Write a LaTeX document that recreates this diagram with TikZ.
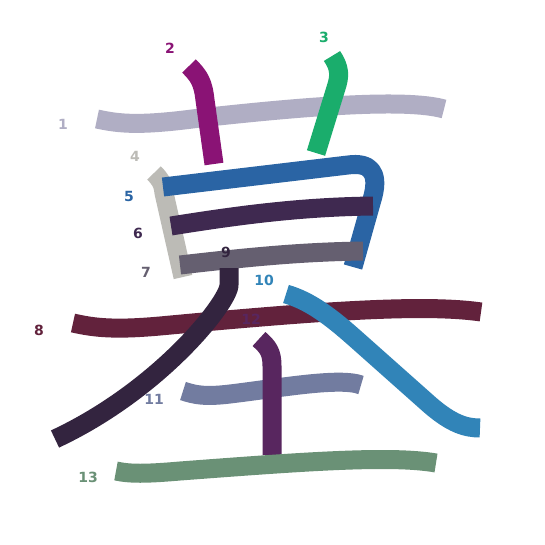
\documentclass[tikz,border=0pt]{standalone}
\usepackage{fontspec}
\setsansfont{DejaVu Sans}
\usetikzlibrary{positioning}

\definecolor{cOne}{HTML}{B0AEC4}
\definecolor{cTwo}{HTML}{8A1375}
\definecolor{cThree}{HTML}{1AAD6C}
\definecolor{cFour}{HTML}{BCBBB6}
\definecolor{cFive}{HTML}{2A64A4}
\definecolor{cSix}{HTML}{3F2950}
\definecolor{cSeven}{HTML}{655F70}
\definecolor{cEight}{HTML}{62223C}
\definecolor{cNine}{HTML}{33243F}
\definecolor{cTen}{HTML}{3184B8}
\definecolor{cEleven}{HTML}{727CA0}
\definecolor{cTwelve}{HTML}{58265F}
\definecolor{cThirteen}{HTML}{6A9176}

\tikzset{
  kstroke/.style={draw=#1, line width=19pt, line cap=butt, line join=round},
  numlbl/.style={text=#1, font=\sffamily\bfseries\fontsize{14}{14}\selectfont, inner sep=0pt}
}

\begin{document}
\begin{tikzpicture}[x=1pt, y=-1pt]
  \fill[white] (0,0) rectangle (545,545);
  \useasboundingbox (0,0) rectangle (545,545);

  % grass radical
  \draw[kstroke=cOne] (97,119) .. controls (120,124) and (140,126) .. (200,118) .. controls (300,107) and (405,98) .. (444,109);
  \node[numlbl=cOne] (n1) at (63,124) {1};
  \draw[kstroke=cTwo] (189,66) .. controls (199,76) and (203,82) .. (205,100) -- (214,164);
  \node[numlbl=cTwo] (n2) at (170,48) {2};
  \draw[kstroke=cThree] (332,56) .. controls (340,68) and (340,76) .. (336,88) -- (316,153);
  \node[numlbl=cThree] (n3) at (324,37) {3};

  % sun
  \draw[kstroke=cFour] (154,173) .. controls (160,179) and (163,183) .. (164,193) -- (183,277);
  \node[numlbl=cFour] (n4) at (135,156) {4};
  \draw[kstroke=cFive] (163,187) -- (348,165) .. controls (370,162) and (379,172) .. (373,196) -- (353,267);
  \node[numlbl=cFive] (n5) at (129,196) {5};
  \draw[kstroke=cSix] (171,226) .. controls (240,215) and (300,207) .. (373,206);
  \node[numlbl=cSix] (n6) at (138,233) {6};
  \draw[kstroke=cSeven] (180,265) .. controls (250,257) and (300,252) .. (363,251);
  \node[numlbl=cSeven] (n7) at (146,272) {7};

  % big
  \draw[kstroke=cEight] (73,323) .. controls (95,328) and (115,330) .. (160,326) .. controls (300,313) and (420,303) .. (481,312);
  \node[numlbl=cEight] (n8) at (39,330) {8};
  \draw[kstroke=cNine] (229,268) -- (229,285) .. controls (229,302) and (160,390) .. (55,439);
  \node[numlbl=cNine] (n9) at (226,252) {9};
  \draw[kstroke=cTen] (286,294) .. controls (310,301) and (330,316) .. (358,341) -- (430,405) .. controls (452,424) and (466,428) .. (480,428);
  \node[numlbl=cTen] (n10) at (264,280) {10};

  % earth
  \draw[kstroke=cEleven] (183,391) .. controls (195,395) and (205,397) .. (230,394) .. controls (280,388) and (340,377) .. (361,385);
  \node[numlbl=cEleven] (n11) at (154,399) {11};
  \draw[kstroke=cTwelve] (259,339) .. controls (268,347) and (272,352) .. (272,366) -- (272,455);
  \node[numlbl=cTwelve] (n12) at (251,319) {12};
  \draw[kstroke=cThirteen] (116,471) .. controls (130,474) and (145,474) .. (180,471) .. controls (300,462) and (390,455) .. (436,463);
  \node[numlbl=cThirteen] (n13) at (88,477) {13};
\end{tikzpicture}
\end{document}
